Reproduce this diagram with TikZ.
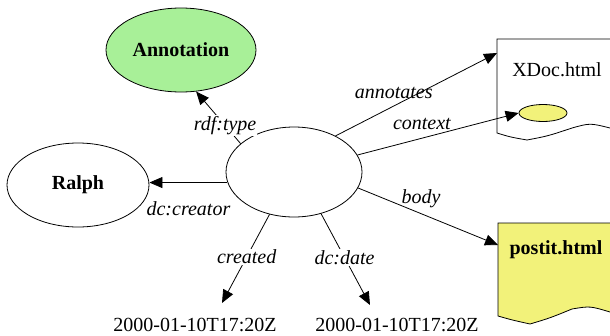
\documentclass[tikz,border=0pt]{standalone}
\usepackage{fontspec}
\setmainfont{Liberation Serif}
\usetikzlibrary{shapes.geometric,arrows.meta}
\definecolor{annotgreen}{RGB}{168,240,152}
\definecolor{postityellow}{RGB}{242,242,122}

\begin{document}
\begin{tikzpicture}[x=1pt,y=-1pt,line width=0.8pt,
    every node/.style={font=\fontsize{20}{24}\selectfont},
    res/.style={draw,ellipse,inner sep=0pt,font=\fontsize{20}{24}\selectfont\bfseries},
    prop/.style={font=\fontsize{20}{24}\selectfont\itshape,inner sep=1pt},
    arr/.style={-{Triangle[length=13pt,width=11pt]}}]
  \useasboundingbox (0,0) rectangle (610,335);

  % documents
  \draw (610,39) -- (497,39) -- (497,133) .. controls (510,137) .. (527,140)
    .. controls (548,136) .. (572,128) .. controls (590,123) .. (610,128);
  \fill[postityellow] (610,223) -- (498,223) -- (498,316) .. controls (512,320) .. (530,324)
    .. controls (550,318) .. (572,309) .. controls (590,306) .. (610,312) -- cycle;
  \draw (610,223) -- (498,223) -- (498,316) .. controls (512,320) .. (530,324)
    .. controls (550,318) .. (572,309) .. controls (590,306) .. (610,312);

  \node (xdoc) at (557,70) {XDoc.html};
  \node[font=\fontsize{20}{24}\selectfont\bfseries] (postit) at (556,250) {postit.html};
  \node[draw,ellipse,fill=postityellow,inner sep=0pt,minimum width=48pt,minimum height=17pt] (ctx) at (543,113) {};
  \coordinate (xdoc in) at (497,53);
  \coordinate (postit in) at (498,245);

  % resources
  \node[res,fill=annotgreen,minimum width=150pt,minimum height=84pt] (annot) at (181,50) {Annotation};
  \node[res,minimum width=142pt,minimum height=84pt] (ralph) at (78,185) {Ralph};
  \node[draw,ellipse,minimum width=136pt,minimum height=90pt] (blank) at (294,172) {};

  % literals
  \node (date1) at (195,325) {2000-01-10T17:20Z};
  \node (date2) at (397,325) {2000-01-10T17:20Z};
  \coordinate (date1 in) at (222,303);
  \coordinate (date2 in) at (370,305);

  % properties
  \draw[arr] (blank.152) -- node[prop,pos=.35,fill=white] {rdf:type} (annot.-70);
  \draw[arr] (blank.189) -- node[prop,below=18pt] {dc:creator} (blank.189 -| ralph.east);
  \draw[arr] (blank.41) -- node[prop,pos=.36,above=6pt] {annotates} (xdoc in);
  \draw[arr] (blank.15) -- node[prop,pos=.4,above=7pt] {context} (ctx.west);
  \draw[arr] (blank.-14) -- node[prop,pos=.45,above=4pt] {body} (postit in);
  \draw[arr] (blank.-120) -- node[prop,pos=.48,fill=white] {created} (date1 in);
  \draw[arr] (blank.-57) -- node[prop,pos=.48,fill=white] {dc:date} (date2 in);
\end{tikzpicture}
\end{document}
